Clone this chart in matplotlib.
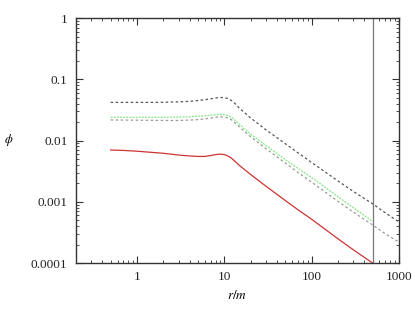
import matplotlib
matplotlib.use("Agg")
import matplotlib.pyplot as plt
from matplotlib.ticker import LogLocator, FixedLocator, FixedFormatter, NullFormatter

plt.rcParams["mathtext.fontset"] = "stix"

r_all = [0.5, 0.7, 1, 1.5, 2, 3, 4, 5, 6, 7, 8, 9, 10, 11, 12, 13, 15, 20, 30, 50, 70, 100, 200, 300, 500, 700, 1000]
r_500 = r_all[:25]

phi_gray_top = [0.042, 0.042, 0.042, 0.042, 0.0422, 0.0428, 0.0437, 0.045, 0.0465, 0.048, 0.0496, 0.0505, 0.0502,
                0.0485, 0.0455, 0.0415, 0.0335, 0.0235, 0.0150, 0.0089, 0.0063, 0.0044, 0.0022, 0.00148, 0.00093,
                0.00066, 0.00047]
phi_gray_low = [0.0217, 0.0216, 0.0215, 0.0214, 0.0213, 0.0213, 0.0216, 0.022, 0.0226, 0.0233, 0.024, 0.0244, 0.0243,
                0.0234, 0.022, 0.0202, 0.0166, 0.0116, 0.0074, 0.0043, 0.0030, 0.0021, 0.00102, 0.00068, 0.00042,
                0.0003, 0.00022]
phi_green = [0.024, 0.024, 0.024, 0.024, 0.024, 0.0242, 0.0245, 0.025, 0.0255, 0.026, 0.0265, 0.0268, 0.0266,
             0.0257, 0.0242, 0.0222, 0.0183, 0.0128, 0.0083, 0.0049, 0.0035, 0.0025, 0.00122, 0.00080, 0.00048]
phi_red = [0.0070, 0.0069, 0.0067, 0.0064, 0.0062, 0.0058, 0.0056, 0.0055, 0.0055, 0.0057, 0.0059, 0.0060, 0.0059,
           0.0056, 0.0052, 0.0047, 0.0039, 0.0028, 0.0018, 0.00105, 0.00074, 0.00052, 0.00025, 0.000165, 0.0001]
r_cut = 500

xticks = [1, 10, 100, 1000]
xlabels = ["1", "10", "100", "1000"]
yticks = [0.0001, 0.001, 0.01, 0.1, 1]
ylabels = ["0.0001", "0.001", "0.01", "0.1", "1"]

serif = "Liberation Serif"
fig = plt.figure(figsize=(4.15, 3.12), dpi=100)
ax = fig.add_axes([0.183, 0.157, 0.778, 0.785])
ax.set_xscale("log")
ax.set_yscale("log")
ax.set_xlim(0.2, 1000)
ax.set_ylim(0.0001, 1)

ax.plot(r_all, phi_gray_top, color="#555555", lw=0.9, ls=(0, (2, 2)))
ax.plot(r_all, phi_gray_low, color="#999999", lw=0.9, ls=(0, (2, 2)))
ax.plot(r_500, phi_green, color="#7fe87f", lw=0.9, ls=(0, (1.5, 1)))
ax.plot(r_500, phi_red, color="#cc3333", lw=0.9)
ax.axvline(r_cut, color="#777777", lw=0.9)

ax.xaxis.set_major_locator(FixedLocator(xticks))
ax.xaxis.set_major_formatter(FixedFormatter(xlabels))
ax.yaxis.set_major_locator(FixedLocator(yticks))
ax.yaxis.set_major_formatter(FixedFormatter(ylabels))
ax.xaxis.set_minor_locator(LogLocator(base=10, subs=range(2, 10), numticks=20))
ax.yaxis.set_minor_locator(LogLocator(base=10, subs=range(2, 10), numticks=20))
ax.xaxis.set_minor_formatter(NullFormatter())
ax.yaxis.set_minor_formatter(NullFormatter())
ax.tick_params(which="both", direction="in", top=True, right=True, color="#333333")
ax.tick_params(which="major", length=5, width=0.8, labelsize=9.5, pad=6, labelcolor="#222222")
ax.tick_params(which="minor", length=2.5, width=0.6)
for lab in ax.get_xticklabels() + ax.get_yticklabels():
    lab.set_fontfamily(serif)
for s in ax.spines.values():
    s.set_color("#333333")
    s.set_linewidth(1.0)

ax.set_xlabel("$r/m$", fontsize=9.5, labelpad=4)
fig.text(0.02, 0.55, r"$\phi$", fontsize=9, ha="center", va="center")
fig.savefig("out.png", dpi=100)
